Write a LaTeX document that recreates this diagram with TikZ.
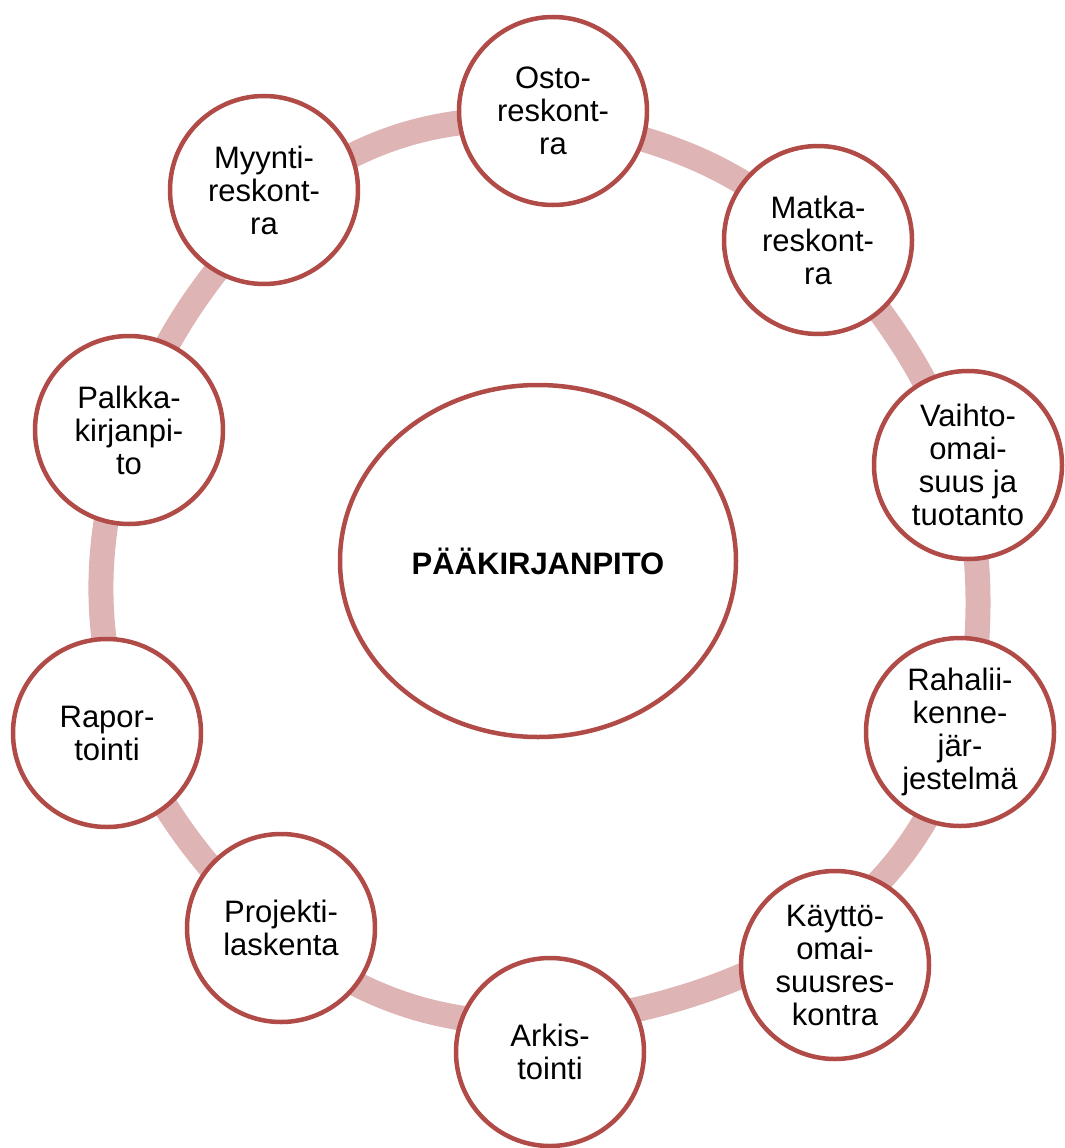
\documentclass[tikz,border=0pt]{standalone}
\usepackage{fontspec}
\setmainfont{Liberation Sans}
\usetikzlibrary{shapes.geometric}
\definecolor{ringc}{RGB}{222,180,181}
\definecolor{edgec}{RGB}{176,75,72}
\begin{document}
\begin{tikzpicture}[x=1pt,y=-1pt,
  item/.style={circle, draw=edgec, line width=4.5pt, fill=white, minimum size=188pt, inner sep=0pt, align=center, font=\fontsize{31}{33}\selectfont},
  hub/.style={ellipse, draw=edgec, line width=4.5pt, fill=white, minimum width=396pt, minimum height=352pt, inner sep=0pt, font=\bfseries\fontsize{31}{33}\selectfont},
  ring/.style={draw=ringc, line width=25pt}]
\useasboundingbox (0,0) rectangle (1065,1148);
% background ring
\draw[ring] plot[smooth cycle, tension=0.65] coordinates {(410,133) (695,158) (903,345) (978,598) (907,848) (690,995) (410,1006) (185,835) (101,580) (195,300)};
% centre
\node[hub] (hub) at (538,561) {PÄÄKIRJANPITO};
% satellites
\node[item] (osto) at (553,111) {Osto-\\reskont-\\ra};
\node[item] (matka) at (818,240) {Matka-\\reskont-\\ra};
\node[item] (vaihto) at (968,465) {Vaihto-\\omai-\\suus ja\\tuotanto};
\node[item] (raha) at (960,732) {Rahalii-\\kenne-\\jär-\\jestelmä};
\node[item] (kaytto) at (835,965) {Käyttö-\\omai-\\suusres-\\kontra};
\node[item] (arkis) at (550,1052) {Arkis-\\tointi};
\node[item] (projekti) at (281,928) {Projekti-\\laskenta};
\node[item] (rapor) at (107,733) {Rapor-\\tointi};
\node[item] (palkka) at (129,430) {Palkka-\\kirjanpi-\\to};
\node[item] (myynti) at (264,190) {Myynti-\\reskont-\\ra};
\end{tikzpicture}
\end{document}
